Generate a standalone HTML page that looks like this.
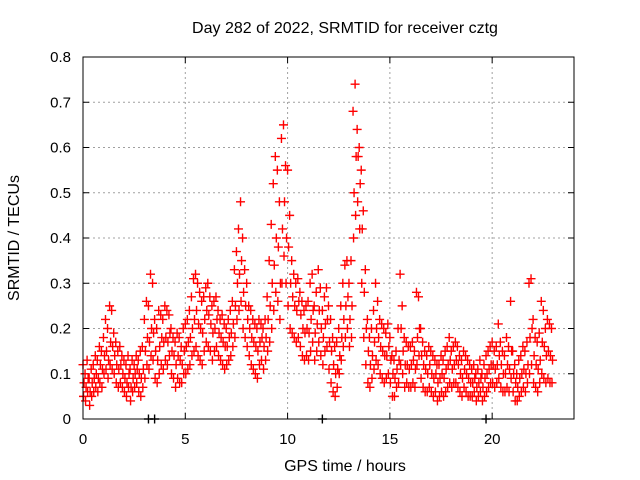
<!DOCTYPE html>
<html><head><meta charset="utf-8">
<style>
html,body{margin:0;padding:0;background:#fff;}
svg{display:block;font-family:"Liberation Sans",sans-serif;}
</style></head>
<body>
<svg id="chart" width="640" height="480" viewBox="0 0 640 480" xmlns="http://www.w3.org/2000/svg">
<rect width="640" height="480" fill="#fff"/>
<text x="345" y="33" font-size="16" text-anchor="middle">Day 282 of 2022, SRMTID for receiver cztg</text>
<text x="345" y="471" font-size="16" text-anchor="middle">GPS time / hours</text>
<text x="0" y="0" font-size="16" text-anchor="middle" transform="translate(19,238) rotate(-90)">SRMTID / TECUs</text>
<g id="grid"></g>
<g id="axes"></g>
<g id="marks"></g>
<rect x="83" y="57" width="491" height="362" fill="none" stroke="#000" stroke-width="1"/>
</svg>
<script>
const xTicks=[0,5,10,15,20];
const yTicks=[0,0.1,0.2,0.3,0.4,0.5,0.6,0.7,0.8];
const yTickLabels=["0","0.1","0.2","0.3","0.4","0.5","0.6","0.7","0.8"];
const startHour=0, stepHour=0.1;
const hiVals=[.12,.10,.13,.09,.11,.12,.14,.13,.16,.15,.18,.22,.20,.25,.24,.19,.17,.15,.16,.14,.13,.12,.14,.11,.13,.12,.14,.13,.15,.16,.22,.26,.25,.32,.30,.22,.20,.24,.23,.22,.25,.24,.23,.20,.18,.17,.19,.18,.16,.20,.21,.22,.24,.27,.31,.32,.30,.28,.26,.27,.29,.30,.27,.25,.26,.27,.24,.22,.23,.21,.20,.22,.24,.26,.33,.37,.42,.48,.40,.33,.30,.25,.24,.22,.21,.20,.22,.21,.20,.22,.27,.35,.43,.52,.58,.55,.48,.62,.65,.56,.55,.45,.35,.32,.30,.31,.28,.26,.24,.25,.26,.30,.32,.25,.28,.33,.29,.24,.27,.29,.25,.22,.18,.16,.17,.20,.25,.30,.34,.35,.30,.35,.68,.74,.64,.60,.55,.46,.33,.22,.18,.20,.24,.30,.26,.22,.21,.20,.19,.21,.18,.14,.13,.15,.20,.32,.25,.18,.17,.16,.16,.17,.15,.28,.27,.20,.17,.15,.14,.16,.15,.14,.13,.12,.12,.14,.13,.15,.16,.18,.15,.16,.17,.16,.14,.13,.15,.14,.13,.12,.11,.12,.10,.11,.13,.10,.12,.14,.15,.16,.17,.15,.16,.21,.17,.15,.14,.18,.16,.26,.15,.12,.10,.13,.14,.16,.15,.17,.30,.31,.22,.18,.17,.19,.26,.24,.20,.22,.21,.20];
const midVals=[.08,.07,.09,.06,.08,.09,.10,.09,.12,.11,.14,.15,.13,.17,.16,.14,.12,.11,.12,.10,.09,.08,.10,.07,.09,.10,.11,.10,.09,.11,.15,.18,.17,.20,.19,.15,.13,.16,.18,.17,.18,.17,.19,.15,.14,.12,.14,.13,.12,.15,.16,.17,.18,.20,.22,.24,.21,.20,.19,.22,.24,.23,.21,.19,.20,.22,.19,.18,.17,.16,.16,.18,.19,.21,.25,.30,.32,.35,.28,.25,.22,.20,.18,.17,.16,.15,.17,.18,.16,.18,.22,.25,.30,.34,.40,.38,.30,.42,.48,.40,.38,.30,.27,.25,.24,.26,.23,.20,.19,.20,.19,.22,.24,.19,.21,.24,.20,.18,.21,.22,.17,.15,.12,.10,.11,.14,.18,.22,.25,.27,.22,.25,.50,.58,.58,.52,.42,.28,.20,.15,.12,.14,.17,.20,.18,.16,.15,.14,.14,.16,.13,.10,.09,.11,.13,.20,.15,.12,.12,.11,.12,.13,.11,.18,.20,.14,.12,.11,.10,.12,.10,.09,.10,.08,.09,.10,.09,.11,.12,.13,.11,.12,.13,.12,.10,.09,.11,.10,.09,.08,.08,.09,.07,.08,.09,.07,.09,.10,.11,.12,.12,.11,.12,.14,.12,.10,.10,.12,.11,.15,.10,.08,.07,.09,.10,.11,.10,.12,.18,.20,.14,.12,.11,.13,.17,.16,.14,.15,.14,.13];
const loVals=[.05,.04,.06,.03,.05,.06,.07,.06,.08,.07,.10,.11,.09,.12,.11,.10,.08,.07,.08,.07,.06,.05,.07,.04,.06,.07,.08,.06,.05,.07,.09,.12,.11,.14,.13,.09,.08,.10,.12,.11,.13,.12,.14,.10,.09,.07,.09,.08,.08,.10,.10,.11,.12,.14,.15,.16,.14,.13,.12,.15,.17,.16,.15,.13,.15,.16,.14,.13,.12,.11,.12,.13,.14,.16,.18,.22,.24,.26,.20,.18,.16,.14,.12,.11,.10,.09,.12,.13,.11,.13,.15,.17,.20,.24,.28,.26,.22,.30,.36,.30,.25,.20,.19,.18,.17,.18,.16,.14,.13,.14,.13,.15,.17,.13,.15,.17,.14,.12,.15,.16,.11,.08,.06,.05,.07,.10,.13,.16,.18,.20,.16,.18,.40,.45,.48,.42,.30,.18,.12,.08,.07,.09,.11,.13,.12,.10,.09,.08,.09,.10,.08,.05,.05,.07,.08,.12,.10,.07,.08,.07,.07,.08,.07,.12,.14,.09,.07,.06,.06,.07,.06,.05,.06,.04,.05,.06,.05,.06,.07,.08,.07,.08,.08,.07,.06,.05,.07,.06,.05,.05,.05,.06,.04,.05,.06,.04,.05,.06,.07,.08,.08,.07,.08,.09,.07,.06,.06,.07,.06,.09,.06,.04,.04,.05,.06,.07,.06,.08,.10,.12,.08,.07,.06,.08,.10,.09,.08,.09,.08,.08];
const blackTimes=[3.2,3.5,11.7,19.7];
const blackVals=[0,0,0,0];

const NS="http://www.w3.org/2000/svg";
const L=83,R=574,T=57,B=419;
function xs(h){return L+(h-0)/(24-0)*(R-L);}
function ys(v){return B-(v-0)/(0.8-0)*(B-T);}
const grid=document.getElementById('grid'),axes=document.getElementById('axes'),marks=document.getElementById('marks');
function mk(tag,attrs,parent){const e=document.createElementNS(NS,tag);for(const k in attrs)e.setAttribute(k,attrs[k]);parent.appendChild(e);return e;}
yTicks.forEach((v,i)=>{
  const y=ys(v);
  if(i>0&&i<yTicks.length-1){const g=mk('line',{x1:L,x2:R,y1:y,y2:y,stroke:'#a0a0a0','stroke-dasharray':'2,3'},grid);
    
    }
  const t=mk('line',{x1:L,x2:L+6,y1:y,y2:y,stroke:'#000'},axes);
  
  
  mk('line',{x1:R-6,x2:R,y1:y,y2:y,stroke:'#000'},axes);
  const lb=mk('text',{x:L-12,y:y+5,'font-size':15,'text-anchor':'end'},axes);lb.textContent=yTickLabels[i];
  
  
});
xTicks.forEach(h=>{
  const x=xs(h);
  if(h>0){const g=mk('line',{x1:x,x2:x,y1:T,y2:B,stroke:'#a0a0a0','stroke-dasharray':'2,3'},grid);
    
    }
  const t=mk('line',{x1:x,x2:x,y1:B-6,y2:B,stroke:'#000'},axes);
  
  
  mk('line',{x1:x,x2:x,y1:T,y2:T+6,stroke:'#000'},axes);
  const lb=mk('text',{x:x,y:B+25,'font-size':15,'text-anchor':'middle'},axes);lb.textContent=String(h);
  
  
});
function plus(h,v,color,name){
  const x=xs(h),y=ys(v);
  const p=mk('path',{d:`M${x-4.5},${y}H${x+4.5}M${x},${y-4.5}V${y+4.5}`,stroke:color,'stroke-width':1.4,fill:'none'},marks);
  
  
}
blackTimes.forEach((h,i)=>plus(h,blackVals[i],'#000','black-point'));
const series=[[hiVals,0],[midVals,0.05],[loVals,0.025]];
series.forEach(([arr,off])=>{
  arr.forEach((v,i)=>plus(startHour+i*stepHour+off,v,'#ff0000','srmtid-point'));
});
</script>
</body></html>
